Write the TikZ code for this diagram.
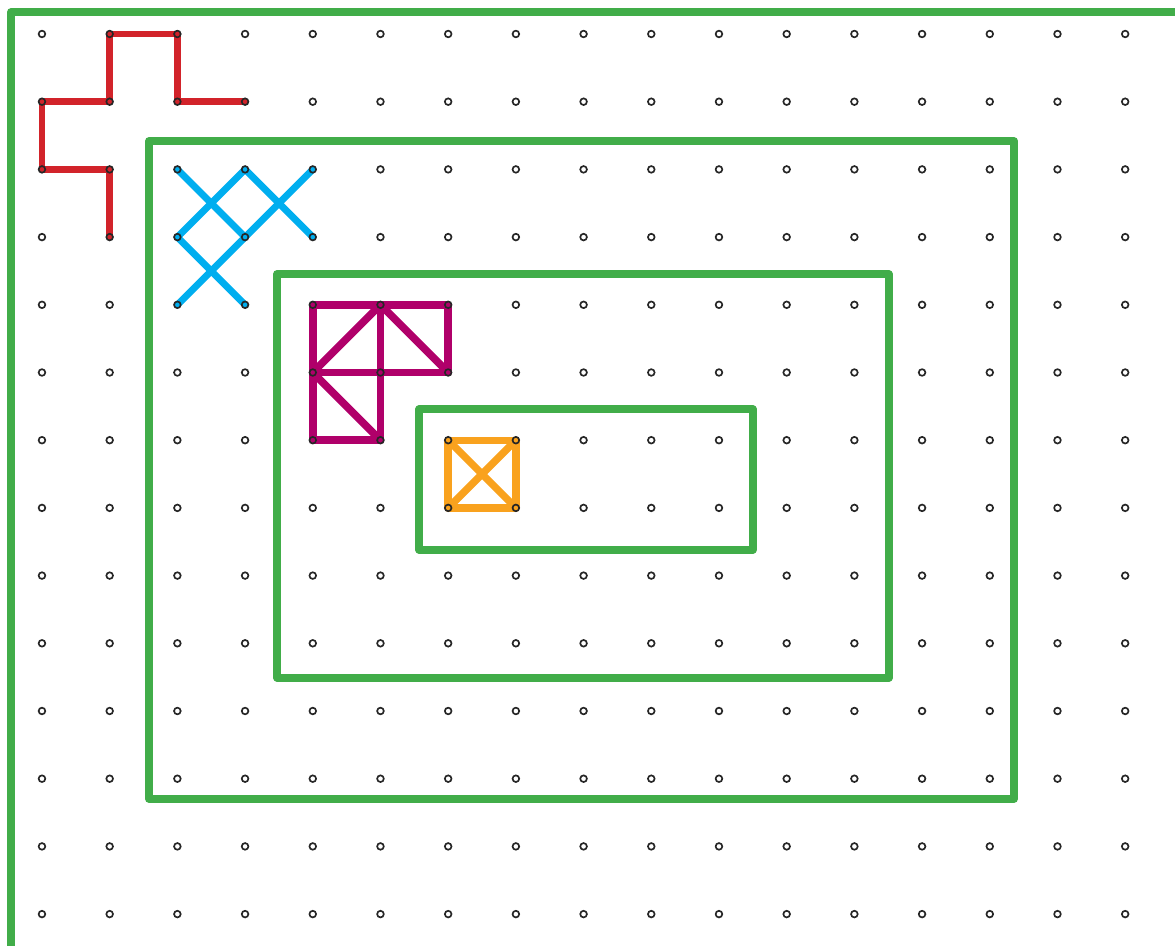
\documentclass[tikz,border=0pt]{standalone}
\usepackage{tikz}
\definecolor{boardgreen}{RGB}{65,173,73}
\definecolor{bandred}{RGB}{210,35,42}
\definecolor{bandblue}{RGB}{0,174,239}
\definecolor{bandmagenta}{RGB}{176,0,106}
\definecolor{bandorange}{RGB}{249,162,30}
\tikzset{
    % Pegs of the board - small open circles
    peg/.style={circle, draw=black!85, line width=0.7pt, inner sep=0pt, minimum size=2.8pt},
    % Frames - green rounded outlines
    frame/.style={draw=boardgreen, line width=3.1pt, line join=round},
    % Rubber bands stretched over the pegs
    band/.style={line width=2.9pt, line cap=round, line join=round},
    red band/.style={band, draw=bandred},
    blue band/.style={band, draw=bandblue},
    magenta band/.style={band, draw=bandmagenta, line width=3.2pt},
    orange band/.style={band, draw=bandorange, line width=3.1pt}
}
\begin{document}
\begin{tikzpicture}
    \useasboundingbox (-0.62,0.502) rectangle (16.736,-13.47);

    % --- Peg positions ---
    \foreach \i in {0,...,16}
        \foreach \j in {0,...,13}
            \coordinate (g-\i-\j) at (\i,-\j);

    % --- Frames ---
    \draw[frame] (16.736,0.325) -- (-0.458,0.325) -- (-0.458,-13.47);
    \draw[frame] (1.58,-1.58) rectangle (14.36,-11.30);
    \draw[frame] (3.47,-3.545) rectangle (12.51,-9.51);
    \draw[frame] (5.57,-5.54) rectangle (10.50,-7.62);

    % --- Red band ---
    \draw[red band] (g-3-1) -- (g-2-1) -- (g-2-0) -- (g-1-0) -- (g-1-1)
        -- (g-0-1) -- (g-0-2) -- (g-1-2) -- (g-1-3);

    % --- Blue bands ---
    \draw[blue band] (g-2-2) -- (g-3-3);
    \draw[blue band] (g-3-2) -- (g-4-3);
    \draw[blue band] (g-3-2) -- (g-2-3);
    \draw[blue band] (g-4-2) -- (g-2-4);
    \draw[blue band] (g-2-3) -- (g-3-4);

    % --- Magenta bands ---
    \draw[magenta band] (g-4-6) -- (g-4-4) -- (g-6-4) -- (g-6-5) -- (g-4-5);
    \draw[magenta band] (g-5-4) -- (g-5-6) -- (g-4-6);
    \draw[magenta band] (g-4-5) -- (g-5-4) -- (g-6-5);
    \draw[magenta band] (g-4-5) -- (g-5-6);

    % --- Orange band ---
    \draw[orange band] (g-6-6) -- (g-7-6) -- (g-7-7) -- (g-6-7) -- cycle;
    \draw[orange band] (g-6-6) -- (g-7-7);
    \draw[orange band] (g-7-6) -- (g-6-7);

    % --- Pegs on top ---
    \foreach \i in {0,...,16}
        \foreach \j in {0,...,13}
            \node[peg] (p-\i-\j) at (g-\i-\j) {};

\end{tikzpicture}
\end{document}
